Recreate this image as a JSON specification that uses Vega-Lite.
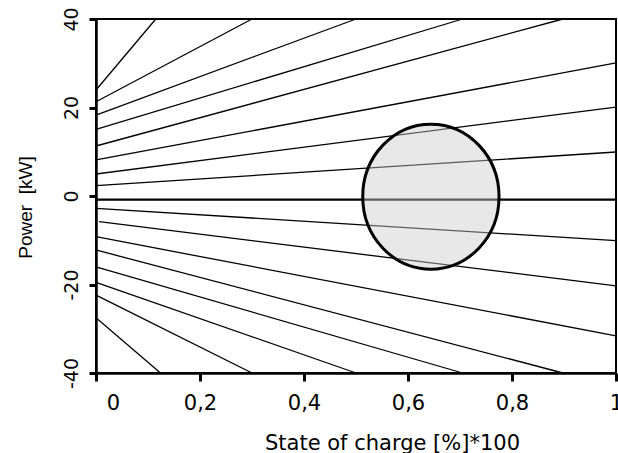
{
  "$schema": "https://vega.github.io/schema/vega-lite/v6.json",
  "width": 520,
  "height": 354,
  "autosize": {"type": "none"},
  "padding": {"left": 96, "top": 19, "right": 2, "bottom": 80},
  "background": "white",
  "config": {
    "view": {"stroke": "black", "strokeWidth": 2},
    "axis": {"grid": false, "domainColor": "black", "domainWidth": 2.5, "tickColor": "black", "tickWidth": 3, "labelColor": "black", "titleColor": "black", "titleFontWeight": "normal"}
  },
  "datasets": {
    "fan": [
      {"id": "p1", "soc": 0, "power": 23.95}, {"id": "p1", "soc": 0.115, "power": 40},
      {"id": "p2", "soc": 0, "power": 21.3}, {"id": "p2", "soc": 0.3, "power": 40},
      {"id": "p3", "soc": 0, "power": 18.3}, {"id": "p3", "soc": 0.5, "power": 40},
      {"id": "p4", "soc": 0, "power": 15.07}, {"id": "p4", "soc": 0.705, "power": 40},
      {"id": "p5", "soc": 0, "power": 11.3}, {"id": "p5", "soc": 0.898, "power": 40},
      {"id": "p6", "soc": 0, "power": 8.14}, {"id": "p6", "soc": 1, "power": 30.06},
      {"id": "p7", "soc": 0, "power": 4.97}, {"id": "p7", "soc": 1, "power": 20.1},
      {"id": "p8", "soc": 0, "power": 2.33}, {"id": "p8", "soc": 1, "power": 9.94},
      {"id": "n1", "soc": 0, "power": -2.78}, {"id": "n1", "soc": 1, "power": -10.1},
      {"id": "n2", "soc": 0.006, "power": -5.81}, {"id": "n2", "soc": 1, "power": -20.3},
      {"id": "n3", "soc": 0, "power": -9.2}, {"id": "n3", "soc": 1, "power": -31.6},
      {"id": "n4", "soc": 0, "power": -12.2}, {"id": "n4", "soc": 0.898, "power": -40},
      {"id": "n5", "soc": 0, "power": -16.0}, {"id": "n5", "soc": 0.705, "power": -40},
      {"id": "n6", "soc": 0, "power": -19.5}, {"id": "n6", "soc": 0.5, "power": -40},
      {"id": "n7", "soc": 0, "power": -22.4}, {"id": "n7", "soc": 0.3, "power": -40},
      {"id": "n8", "soc": 0, "power": -27.5}, {"id": "n8", "soc": 0.124, "power": -40}
    ],
    "zero": [
      {"id": "z", "soc": 0, "power": -0.8}, {"id": "z", "soc": 1, "power": -0.8}
    ],
    "region": [
      {"soc": 0.644, "power": -0.15}
    ]
  },
  "encoding": {
    "x": {
      "field": "soc", "type": "quantitative",
      "scale": {"domain": [0, 1], "nice": false, "zero": false},
      "axis": {
        "values": [0, 0.2, 0.4, 0.6, 0.8, 1],
        "labelExpr": "replace(format(datum.value, '.1~f'), '.', ',')",
        "labelFlush": false,
        "labelOverlap": false,
        "labelOffset": {"condition": {"test": "datum.value === 0", "value": 17}, "value": 0},
        "labelFont": "DejaVu Sans", "labelFontSize": 21, "labelPadding": 11, "labelBaseline": "top",
        "tickSize": 8,
        "title": "State of charge [%]*100",
        "titleFont": "DejaVu Sans", "titleFontSize": 21,
        "titleX": 296, "titleY": 76, "titleBaseline": "alphabetic", "titleAlign": "center"
      }
    },
    "y": {
      "field": "power", "type": "quantitative",
      "scale": {"domain": [-40, 40], "nice": false, "zero": false},
      "axis": {
        "values": [-40, -20, 0, 20, 40],
        "labelExpr": "datum.value < 0 ? '-' + abs(datum.value) : '' + datum.value",
        "labelAngle": -90, "labelAlign": "center", "labelBaseline": "alphabetic",
        "labelFont": "DejaVu Sans", "labelFontSize": 19, "labelPadding": 12,
        "labelOverlap": false,
        "tickSize": 7,
        "title": "Power\u00a0\u00a0[kW]",
        "titleFont": "Liberation Sans", "titleFontSize": 19,
        "titleAngle": 270, "titleBaseline": "alphabetic", "titleAlign": "center",
        "titleX": -65, "titleY": 188
      }
    }
  },
  "layer": [
    {
      "data": {"name": "fan"},
      "mark": {"type": "line", "color": "black", "strokeWidth": 1.3},
      "encoding": {"detail": {"field": "id"}}
    },
    {
      "data": {"name": "zero"},
      "mark": {"type": "line", "color": "black", "strokeWidth": 2.3},
      "encoding": {"detail": {"field": "id"}}
    },
    {
      "data": {"name": "region"},
      "mark": {
        "type": "point",
        "shape": "M 0.94,0 C 0.94,0.5523 0.5192,1 0,1 C -0.5192,1 -0.94,0.5523 -0.94,0 C -0.94,-0.5523 -0.5192,-1 0,-1 C 0.5192,-1 0.94,-0.5523 0.94,0 Z",
        "size": 21025,
        "filled": true,
        "fill": "#cccccc",
        "fillOpacity": 0.45,
        "stroke": "black",
        "strokeWidth": 3,
        "strokeOpacity": 1,
        "opacity": 1
      },
      "encoding": {}
    }
  ]
}
